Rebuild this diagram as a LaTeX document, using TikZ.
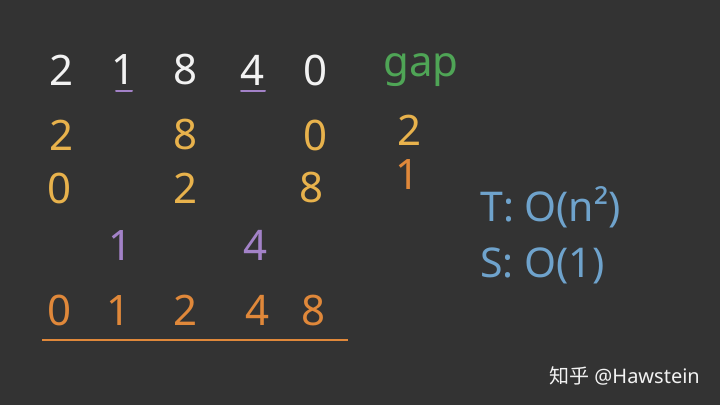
\documentclass[tikz,border=0pt]{standalone}
\usepackage{fontspec}
\setmainfont{Noto Sans}
\newfontfamily\cjk{Noto Sans CJK SC}
\definecolor{board}{HTML}{333333}
\definecolor{chalkwhite}{HTML}{F2F2F2}
\definecolor{chalkyellow}{HTML}{E8B24C}
\definecolor{chalkorange}{HTML}{E0883A}
\definecolor{chalkpurple}{HTML}{A382C8}
\definecolor{chalkgreen}{HTML}{4FA556}
\definecolor{chalkblue}{HTML}{6FA3CC}
\tikzset{
  digit/.style={font=\fontsize{42}{42}\selectfont, inner sep=0pt, anchor=center},
  note/.style={font=\fontsize{41}{41}\selectfont, inner sep=0pt, anchor=west},
}
\begin{document}
\begin{tikzpicture}[x=1pt,y=-1pt]
  \fill[board] (0,0) rectangle (720,405);
  \useasboundingbox (0,0) rectangle (720,405);

  % input array
  \foreach \d/\x [count=\i] in {2/62,1/124,8/186,4/253,0/316}
    \node[digit, chalkwhite] (top\i) at (\x,70) {\d};
  \draw[chalkpurple, line width=2pt, line cap=round] ([xshift=-8pt,yshift=-6pt]top2.south) -- ([xshift=8pt,yshift=-6pt]top2.south);
  \draw[chalkpurple, line width=2pt, line cap=round] ([xshift=-12pt,yshift=-6pt]top4.south) -- ([xshift=12pt,yshift=-6pt]top4.south);

  % gap = 2
  \foreach \d/\x [count=\i] in {2/62,8/186,0/316}
    \node[digit, chalkyellow] (ga\i) at (\x,135) {\d};
  \foreach \d/\x [count=\i] in {0/60,2/186,8/312}
    \node[digit, chalkyellow] (gb\i) at (\x,188) {\d};

  % gap = 1
  \node[digit, chalkpurple] (odd1) at (121,245) {1};
  \node[digit, chalkpurple] (odd2) at (256,245) {4};

  % result
  \foreach \d/\x [count=\i] in {0/60,1/119,2/186,4/258,8/314}
    \node[digit, chalkorange] (res\i) at (\x,310) {\d};
  \coordinate (ruleL) at (42,340);
  \coordinate (ruleR) at (348,340);
  \draw[chalkorange, line width=2.5pt] (ruleL) -- (ruleR);

  % gap column
  \node[digit, chalkgreen] (gap) at (421,70) {gap};
  \node[digit, chalkyellow] (gap2) at (410,130) {2};
  \node[digit, chalkorange] (gap1) at (408,175) {1};

  % complexity
  \node[note, chalkblue] (time) at (480,207) {T: O(n²)};
  \node[note, chalkblue] (space) at (480,266) {S: O(1)};

  \node[font=\fontsize{20}{20}\selectfont, text=chalkwhite, anchor=east, inner sep=0pt] (mark) at (700,376) {{\cjk 知乎} @Hawstein};
\end{tikzpicture}
\end{document}
